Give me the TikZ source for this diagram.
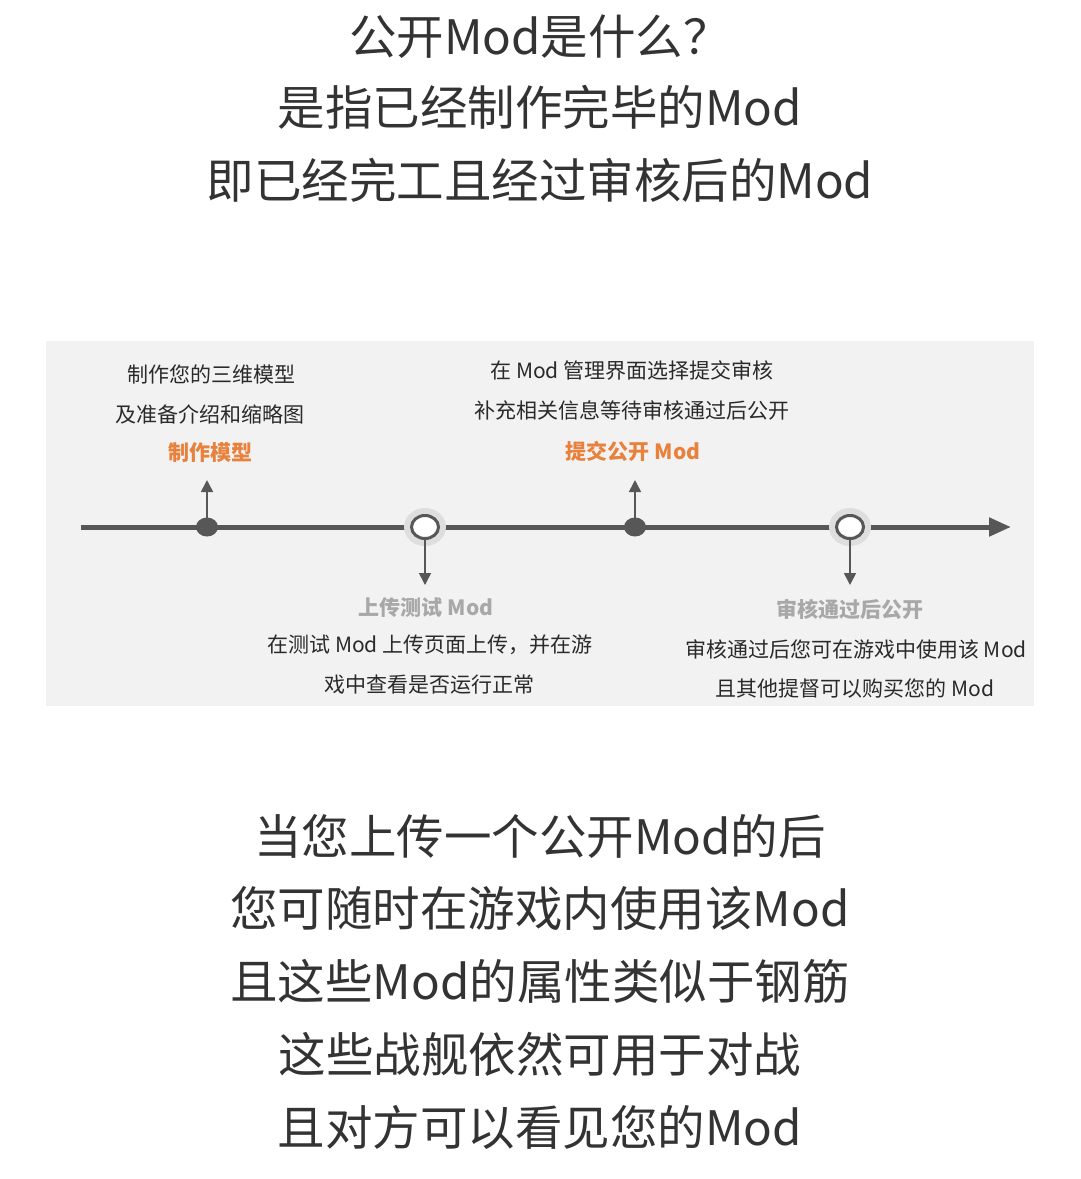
\documentclass[tikz,border=0pt]{standalone}
\usepackage{fontspec}
\setmainfont{Noto Sans CJK SC}
\usetikzlibrary{arrows.meta}
\definecolor{txt}{HTML}{333333}
\definecolor{ptxt}{HTML}{2A2A2A}
\definecolor{line}{HTML}{575757}
\definecolor{panel}{HTML}{F2F2F3}
\definecolor{halo}{HTML}{DEDEDE}
\definecolor{orng}{HTML}{E8813B}
\definecolor{lgray}{HTML}{A8A8A8}
\tikzset{
  heading/.style={font=\fontsize{47.5}{47.5}\selectfont, text=txt, inner sep=0pt, anchor=center},
  ptext/.style={font=\fontsize{21}{21}\selectfont, text=ptxt, inner sep=0pt, anchor=center},
  otext/.style={font=\fontsize{21}{21}\selectfont\bfseries, text=orng, inner sep=0pt, anchor=center},
  gtext/.style={font=\fontsize{21}{21}\selectfont\bfseries, text=lgray, inner sep=0pt, anchor=center},
  pin/.style={draw=line, line width=1.6pt, -{Triangle[length=12pt,width=12pt]}},
}
\begin{document}
\begin{tikzpicture}[x=1pt,y=-1pt]
\useasboundingbox (0,0) rectangle (1080,1179);
\fill[white] (0,0) rectangle (1080,1179);
% headings
\node[heading] (h1) at (540,37) {公开Mod是什么？};
\node[heading] (h2) at (540,107) {是指已经制作完毕的Mod};
\node[heading] (h3) at (540,180) {即已经完工且经过审核后的Mod};
% panel
\fill[panel] (46,341) rectangle (1034,706);
% timeline
\coordinate (tl0) at (81,527);
\coordinate (tl1) at (1011,527);
\draw[line, line width=5pt, -{Triangle[length=22pt,width=18pt]}] (tl0) -- (tl1);
% filled dots
\fill[line] (207,527) ellipse [x radius=11pt, y radius=9.5pt];
\fill[line] (635,527) ellipse [x radius=11pt, y radius=9.5pt];
\coordinate (d1) at (207,518);
\coordinate (d2) at (635,518);
% open circles
\fill[halo] (425,527) ellipse [x radius=21pt, y radius=19pt];
\filldraw[fill=white, draw=line, line width=3pt] (425,527) ellipse [x radius=13.5pt, y radius=11.5pt];
\fill[halo] (850,527) ellipse [x radius=21pt, y radius=19pt];
\filldraw[fill=white, draw=line, line width=3pt] (850,527) ellipse [x radius=13.5pt, y radius=11.5pt];
\coordinate (c1) at (425,540);
\coordinate (c2) at (850,540);
\coordinate (a1) at (207,480);
\coordinate (a2) at (635,480);
\coordinate (b1) at (425,585);
\coordinate (b2) at (850,585);
\draw[pin] (d1) -- (a1);
\draw[pin] (d2) -- (a2);
\draw[pin] (c1) -- (b1);
\draw[pin] (c2) -- (b2);
% panel texts
\node[ptext] (t11) at (211,374) {制作您的三维模型};
\node[ptext] (t12) at (210,414) {及准备介绍和缩略图};
\node[otext] (t13) at (210,453) {制作模型};
\node[ptext] (t21) at (632,370) {在 Mod 管理界面选择提交审核};
\node[ptext] (t22) at (632,410) {补充相关信息等待审核通过后公开};
\node[otext] (t23) at (633,451) {提交公开 Mod};
\node[gtext] (u1) at (426,608) {上传测试 Mod};
\node[ptext] (u2) at (430,645) {在测试 Mod 上传页面上传，并在游};
\node[ptext] (u3) at (429,685) {戏中查看是否运行正常};
\node[gtext] (v1) at (850,609) {审核通过后公开};
\node[ptext] (v2) at (856,649) {审核通过后您可在游戏中使用该 Mod};
\node[ptext] (v3) at (855,689) {且其他提督可以购买您的 Mod};
% bottom
\node[heading] (g1) at (540,836) {当您上传一个公开Mod的后};
\node[heading] (g2) at (540,908) {您可随时在游戏内使用该Mod};
\node[heading] (g3) at (540,981) {且这些Mod的属性类似于钢筋};
\node[heading] (g4) at (540,1054) {这些战舰依然可用于对战};
\node[heading] (g5) at (540,1127) {且对方可以看见您的Mod};
\end{tikzpicture}
\end{document}
